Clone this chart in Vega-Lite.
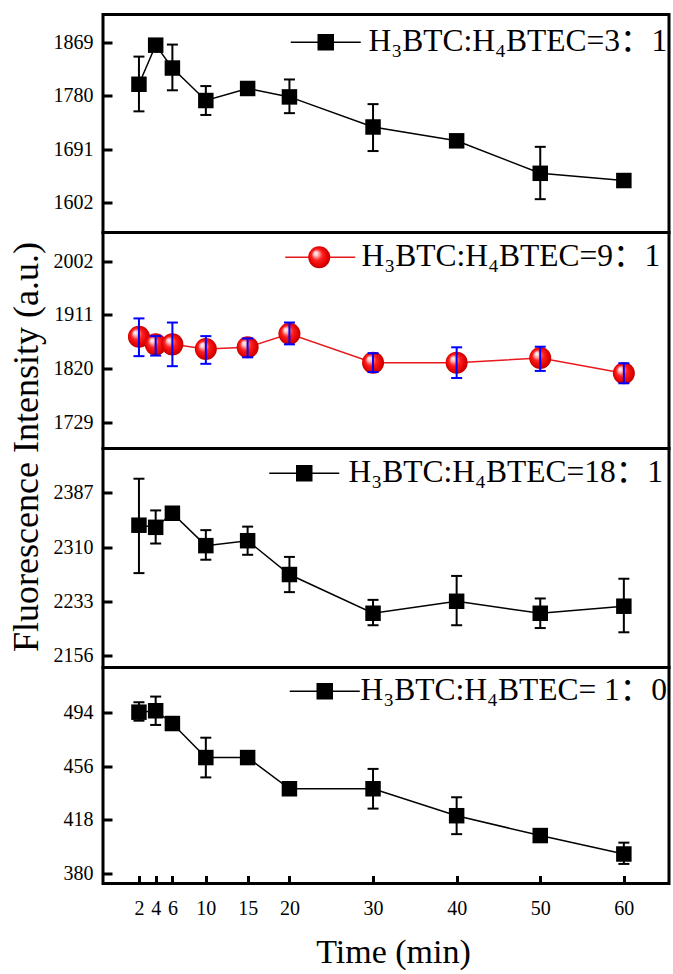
{
  "$schema": "https://vega.github.io/schema/vega-lite/v6.json",
  "padding": {"left": 6, "top": 12.5, "right": 0, "bottom": 0},
  "bounds": "flush",
  "spacing": 0,
  "config": {
    "font": "Liberation Serif",
    "view": {"stroke": "black", "strokeWidth": 3},
    "axis": {
      "grid": false,
      "domain": false,
      "format": "d",
      "labelFont": "Liberation Serif",
      "labelFontSize": 20,
      "labelColor": "black",
      "tickColor": "black",
      "tickWidth": 3,
      "titleFont": "Liberation Serif",
      "titleFontWeight": "normal",
      "titleColor": "black",
      "labelOverlap": false,
      "labelFlush": false
    },
    "axisY": {"tickSize": -9, "labelPadding": 19},
    "axisX": {"tickSize": -8, "labelPadding": 23},
    "legend": {
      "labelFont": "Liberation Serif, Noto Sans CJK SC",
      "labelFontSize": 31.5,
      "labelColor": "black",
      "labelLimit": 600,
      "padding": 0,
      "title": null
    }
  },
  "resolve": {
    "scale": {"x": "independent", "y": "independent", "color": "independent", "shape": "independent"},
    "axis": {"x": "independent", "y": "independent"},
    "legend": {"color": "independent", "shape": "independent"}
  },
  "datasets": {
    "ratio3": [
      {"t": 2, "v": 1799, "lo": 1754, "hi": 1845},
      {"t": 4, "v": 1864, "lo": 1859, "hi": 1869},
      {"t": 6, "v": 1826, "lo": 1789, "hi": 1865},
      {"t": 10, "v": 1772, "lo": 1748, "hi": 1796},
      {"t": 15, "v": 1792, "lo": 1787, "hi": 1797},
      {"t": 20, "v": 1778, "lo": 1751, "hi": 1807},
      {"t": 30, "v": 1728, "lo": 1688, "hi": 1766},
      {"t": 40, "v": 1705, "lo": 1700, "hi": 1710},
      {"t": 50, "v": 1651, "lo": 1608, "hi": 1695},
      {"t": 60, "v": 1639, "lo": 1634, "hi": 1644}
    ],
    "ratio9": [
      {"t": 2, "v": 1874, "lo": 1841, "hi": 1905},
      {"t": 4, "v": 1861, "lo": 1842, "hi": 1875},
      {"t": 6, "v": 1861, "lo": 1824, "hi": 1898},
      {"t": 10, "v": 1853, "lo": 1828, "hi": 1875},
      {"t": 15, "v": 1856, "lo": 1839, "hi": 1871},
      {"t": 20, "v": 1879, "lo": 1861, "hi": 1898},
      {"t": 30, "v": 1830, "lo": 1814, "hi": 1846},
      {"t": 40, "v": 1830, "lo": 1804, "hi": 1856},
      {"t": 50, "v": 1838, "lo": 1816, "hi": 1857},
      {"t": 60, "v": 1812, "lo": 1795, "hi": 1829}
    ],
    "ratio18": [
      {"t": 2, "v": 2341, "lo": 2273, "hi": 2407},
      {"t": 4, "v": 2338, "lo": 2315, "hi": 2362},
      {"t": 6, "v": 2358, "lo": 2352, "hi": 2364},
      {"t": 10, "v": 2312, "lo": 2292, "hi": 2334},
      {"t": 15, "v": 2319, "lo": 2299, "hi": 2339},
      {"t": 20, "v": 2271, "lo": 2246, "hi": 2296},
      {"t": 30, "v": 2216, "lo": 2199, "hi": 2235},
      {"t": 40, "v": 2233, "lo": 2199, "hi": 2269},
      {"t": 50, "v": 2216, "lo": 2195, "hi": 2237},
      {"t": 60, "v": 2226, "lo": 2189, "hi": 2265}
    ],
    "ratio1to0": [
      {"t": 2, "v": 494, "lo": 488, "hi": 501},
      {"t": 4, "v": 495, "lo": 485, "hi": 505},
      {"t": 6, "v": 486, "lo": 484, "hi": 488},
      {"t": 10, "v": 462, "lo": 448, "hi": 476},
      {"t": 15, "v": 462, "lo": 460, "hi": 464},
      {"t": 20, "v": 440, "lo": 438, "hi": 442},
      {"t": 30, "v": 440, "lo": 426, "hi": 454},
      {"t": 40, "v": 421, "lo": 408, "hi": 434},
      {"t": 50, "v": 407, "lo": 405, "hi": 410},
      {"t": 60, "v": 394, "lo": 387, "hi": 402}
    ]
  },
  "vconcat": [
    {
      "width": 566,
      "height": 218,
      "data": {"name": "ratio3"},
      "encoding": {
        "x": {"field": "t", "type": "quantitative", "scale": {"domain": [-2.3, 65.4], "nice": false, "zero": false}, "axis": null}
      },
      "layer": [
        {
          "mark": {"type": "line", "color": "black", "strokeWidth": 1.5},
          "encoding": {
            "y": {"field": "v", "type": "quantitative", "title": null,
              "scale": {"domain": [1552.6, 1915], "nice": false, "zero": false},
              "axis": {"values": [1602, 1691, 1780, 1869], "title": null}}
          }
        },
        {
          "mark": {"type": "point", "shape": "square", "filled": true, "size": 240, "opacity": 1},
          "encoding": {
            "y": {"field": "v", "type": "quantitative", "title": null},
            "color": {"datum": "H₃BTC:H₄BTEC=3：1", "scale": {"range": ["black"]},
              "legend": {"orient": "none", "legendX": 207, "legendY": 12,
                "symbolType": "M-3.5,0H3.5M-0.75,-0.75H0.75V0.75H-0.75Z", "symbolSize": 400,
                "symbolStrokeColor": "black", "symbolStrokeWidth": 1.5, "labelOffset": 27}}
          }
        },
        {
          "mark": {"type": "rule", "color": "black", "strokeWidth": 2},
          "encoding": {"y": {"field": "lo", "type": "quantitative", "title": null}, "y2": {"field": "hi"}}
        },
        {
          "mark": {"type": "point", "shape": "stroke", "size": 121, "color": "black", "strokeWidth": 2, "opacity": 1},
          "encoding": {"y": {"field": "lo", "type": "quantitative", "title": null}}
        },
        {
          "mark": {"type": "point", "shape": "stroke", "size": 121, "color": "black", "strokeWidth": 2, "opacity": 1},
          "encoding": {"y": {"field": "hi", "type": "quantitative", "title": null}}
        }
      ]
    },
    {
      "width": 566,
      "height": 216,
      "data": {"name": "ratio9"},
      "encoding": {
        "x": {"field": "t", "type": "quantitative", "scale": {"domain": [-2.3, 65.4], "nice": false, "zero": false}, "axis": null}
      },
      "layer": [
        {
          "mark": {"type": "line", "strokeWidth": 1.5},
          "encoding": {
            "y": {"field": "v", "type": "quantitative", "title": "Fluorescence Intensity (a.u.)",
              "scale": {"domain": [1684.4, 2050.7], "nice": false, "zero": false},
              "axis": {"values": [1729, 1820, 1911, 2002], "title": "Fluorescence Intensity (a.u.)",
                "titleFontSize": 36, "titleAngle": -90, "titleAlign": "center", "titleBaseline": "alphabetic",
                "titleX": -66, "titleY": 214}},
            "color": {"datum": "H₃BTC:H₄BTEC=9：1", "scale": {"range": ["#e8191c"]},
              "legend": {"orient": "none", "legendX": 201.5, "legendY": 9, "zindex": 1,
                "symbolType": "M-3.5,0H3.5", "symbolSize": 400, "symbolStrokeWidth": 1.5, "labelOffset": 25.5}}
          }
        },
        {
          "mark": {"type": "point", "shape": "circle", "filled": true, "size": 484, "opacity": 1,
            "fill": {"gradient": "radial", "x1": 0.32, "y1": 0.3, "r1": 0, "x2": 0.5, "y2": 0.5, "r2": 0.55,
              "stops": [
                {"offset": 0, "color": "#ffffff"},
                {"offset": 0.18, "color": "#ffc4c4"},
                {"offset": 0.45, "color": "#ff2020"},
                {"offset": 0.8, "color": "#e00000"},
                {"offset": 1, "color": "#a80000"}
              ]}},
          "encoding": {
            "y": {"field": "v", "type": "quantitative", "title": "Fluorescence Intensity (a.u.)"},
            "shape": {"datum": "marker", "scale": {"range": ["circle"]},
              "legend": {"orient": "none", "legendX": 200.5, "legendY": 9, "zindex": 2,
                "symbolSize": 484, "symbolStrokeWidth": 0, "labelExpr": "''"}}
          }
        },
        {
          "mark": {"type": "rule", "color": "#0000ff", "strokeWidth": 2},
          "encoding": {"y": {"field": "lo", "type": "quantitative", "title": "Fluorescence Intensity (a.u.)"}, "y2": {"field": "hi"}}
        },
        {
          "mark": {"type": "point", "shape": "stroke", "size": 121, "color": "#0000ff", "strokeWidth": 2, "opacity": 1},
          "encoding": {"y": {"field": "lo", "type": "quantitative", "title": "Fluorescence Intensity (a.u.)"}}
        },
        {
          "mark": {"type": "point", "shape": "stroke", "size": 121, "color": "#0000ff", "strokeWidth": 2, "opacity": 1},
          "encoding": {"y": {"field": "hi", "type": "quantitative", "title": "Fluorescence Intensity (a.u.)"}}
        }
      ]
    },
    {
      "width": 566,
      "height": 219,
      "data": {"name": "ratio18"},
      "encoding": {
        "x": {"field": "t", "type": "quantitative", "scale": {"domain": [-2.3, 65.4], "nice": false, "zero": false}, "axis": null}
      },
      "layer": [
        {
          "mark": {"type": "line", "color": "black", "strokeWidth": 1.5},
          "encoding": {
            "y": {"field": "v", "type": "quantitative", "title": null,
              "scale": {"domain": [2139, 2449.9], "nice": false, "zero": false},
              "axis": {"values": [2156, 2233, 2310, 2387], "title": null}}
          }
        },
        {
          "mark": {"type": "point", "shape": "square", "filled": true, "size": 240, "opacity": 1},
          "encoding": {
            "y": {"field": "v", "type": "quantitative", "title": null},
            "color": {"datum": "H₃BTC:H₄BTEC=18：1", "scale": {"range": ["black"]},
              "legend": {"orient": "none", "legendX": 185.5, "legendY": 9,
                "symbolType": "M-3.5,0H3.5M-0.75,-0.75H0.75V0.75H-0.75Z", "symbolSize": 400,
                "symbolStrokeColor": "black", "symbolStrokeWidth": 1.5, "labelOffset": 28.5}}
          }
        },
        {
          "mark": {"type": "rule", "color": "black", "strokeWidth": 2},
          "encoding": {"y": {"field": "lo", "type": "quantitative", "title": null}, "y2": {"field": "hi"}}
        },
        {
          "mark": {"type": "point", "shape": "stroke", "size": 121, "color": "black", "strokeWidth": 2, "opacity": 1},
          "encoding": {"y": {"field": "lo", "type": "quantitative", "title": null}}
        },
        {
          "mark": {"type": "point", "shape": "stroke", "size": 121, "color": "black", "strokeWidth": 2, "opacity": 1},
          "encoding": {"y": {"field": "hi", "type": "quantitative", "title": null}}
        }
      ]
    },
    {
      "width": 566,
      "height": 216,
      "data": {"name": "ratio1to0"},
      "encoding": {
        "x": {"field": "t", "type": "quantitative", "scale": {"domain": [-2.3, 65.4], "nice": false, "zero": false},
          "axis": {"values": [2, 4, 6, 10, 15, 20, 30, 40, 50, 60], "title": "Time (min)",
            "titleFontSize": 34, "titleAlign": "center", "titleBaseline": "alphabetic", "titleX": 290, "titleY": 79}}
      },
      "layer": [
        {
          "mark": {"type": "line", "color": "black", "strokeWidth": 1.5},
          "encoding": {
            "y": {"field": "v", "type": "quantitative", "title": null,
              "scale": {"domain": [373.2, 525.5], "nice": false, "zero": false},
              "axis": {"values": [380, 418, 456, 494], "title": null}}
          }
        },
        {
          "mark": {"type": "point", "shape": "square", "filled": true, "size": 240, "opacity": 1},
          "encoding": {
            "y": {"field": "v", "type": "quantitative", "title": null},
            "color": {"datum": "H₃BTC:H₄BTEC= 1：0", "scale": {"range": ["black"]},
              "legend": {"orient": "none", "legendX": 206, "legendY": 8,
                "symbolType": "M-3.5,0H3.5M-0.75,-0.75H0.75V0.75H-0.75Z", "symbolSize": 400,
                "symbolStrokeColor": "black", "symbolStrokeWidth": 1.5, "labelOffset": 20}}
          }
        },
        {
          "mark": {"type": "rule", "color": "black", "strokeWidth": 2},
          "encoding": {"y": {"field": "lo", "type": "quantitative", "title": null}, "y2": {"field": "hi"}}
        },
        {
          "mark": {"type": "point", "shape": "stroke", "size": 121, "color": "black", "strokeWidth": 2, "opacity": 1},
          "encoding": {"y": {"field": "lo", "type": "quantitative", "title": null}}
        },
        {
          "mark": {"type": "point", "shape": "stroke", "size": 121, "color": "black", "strokeWidth": 2, "opacity": 1},
          "encoding": {"y": {"field": "hi", "type": "quantitative", "title": null}}
        }
      ]
    }
  ]
}
